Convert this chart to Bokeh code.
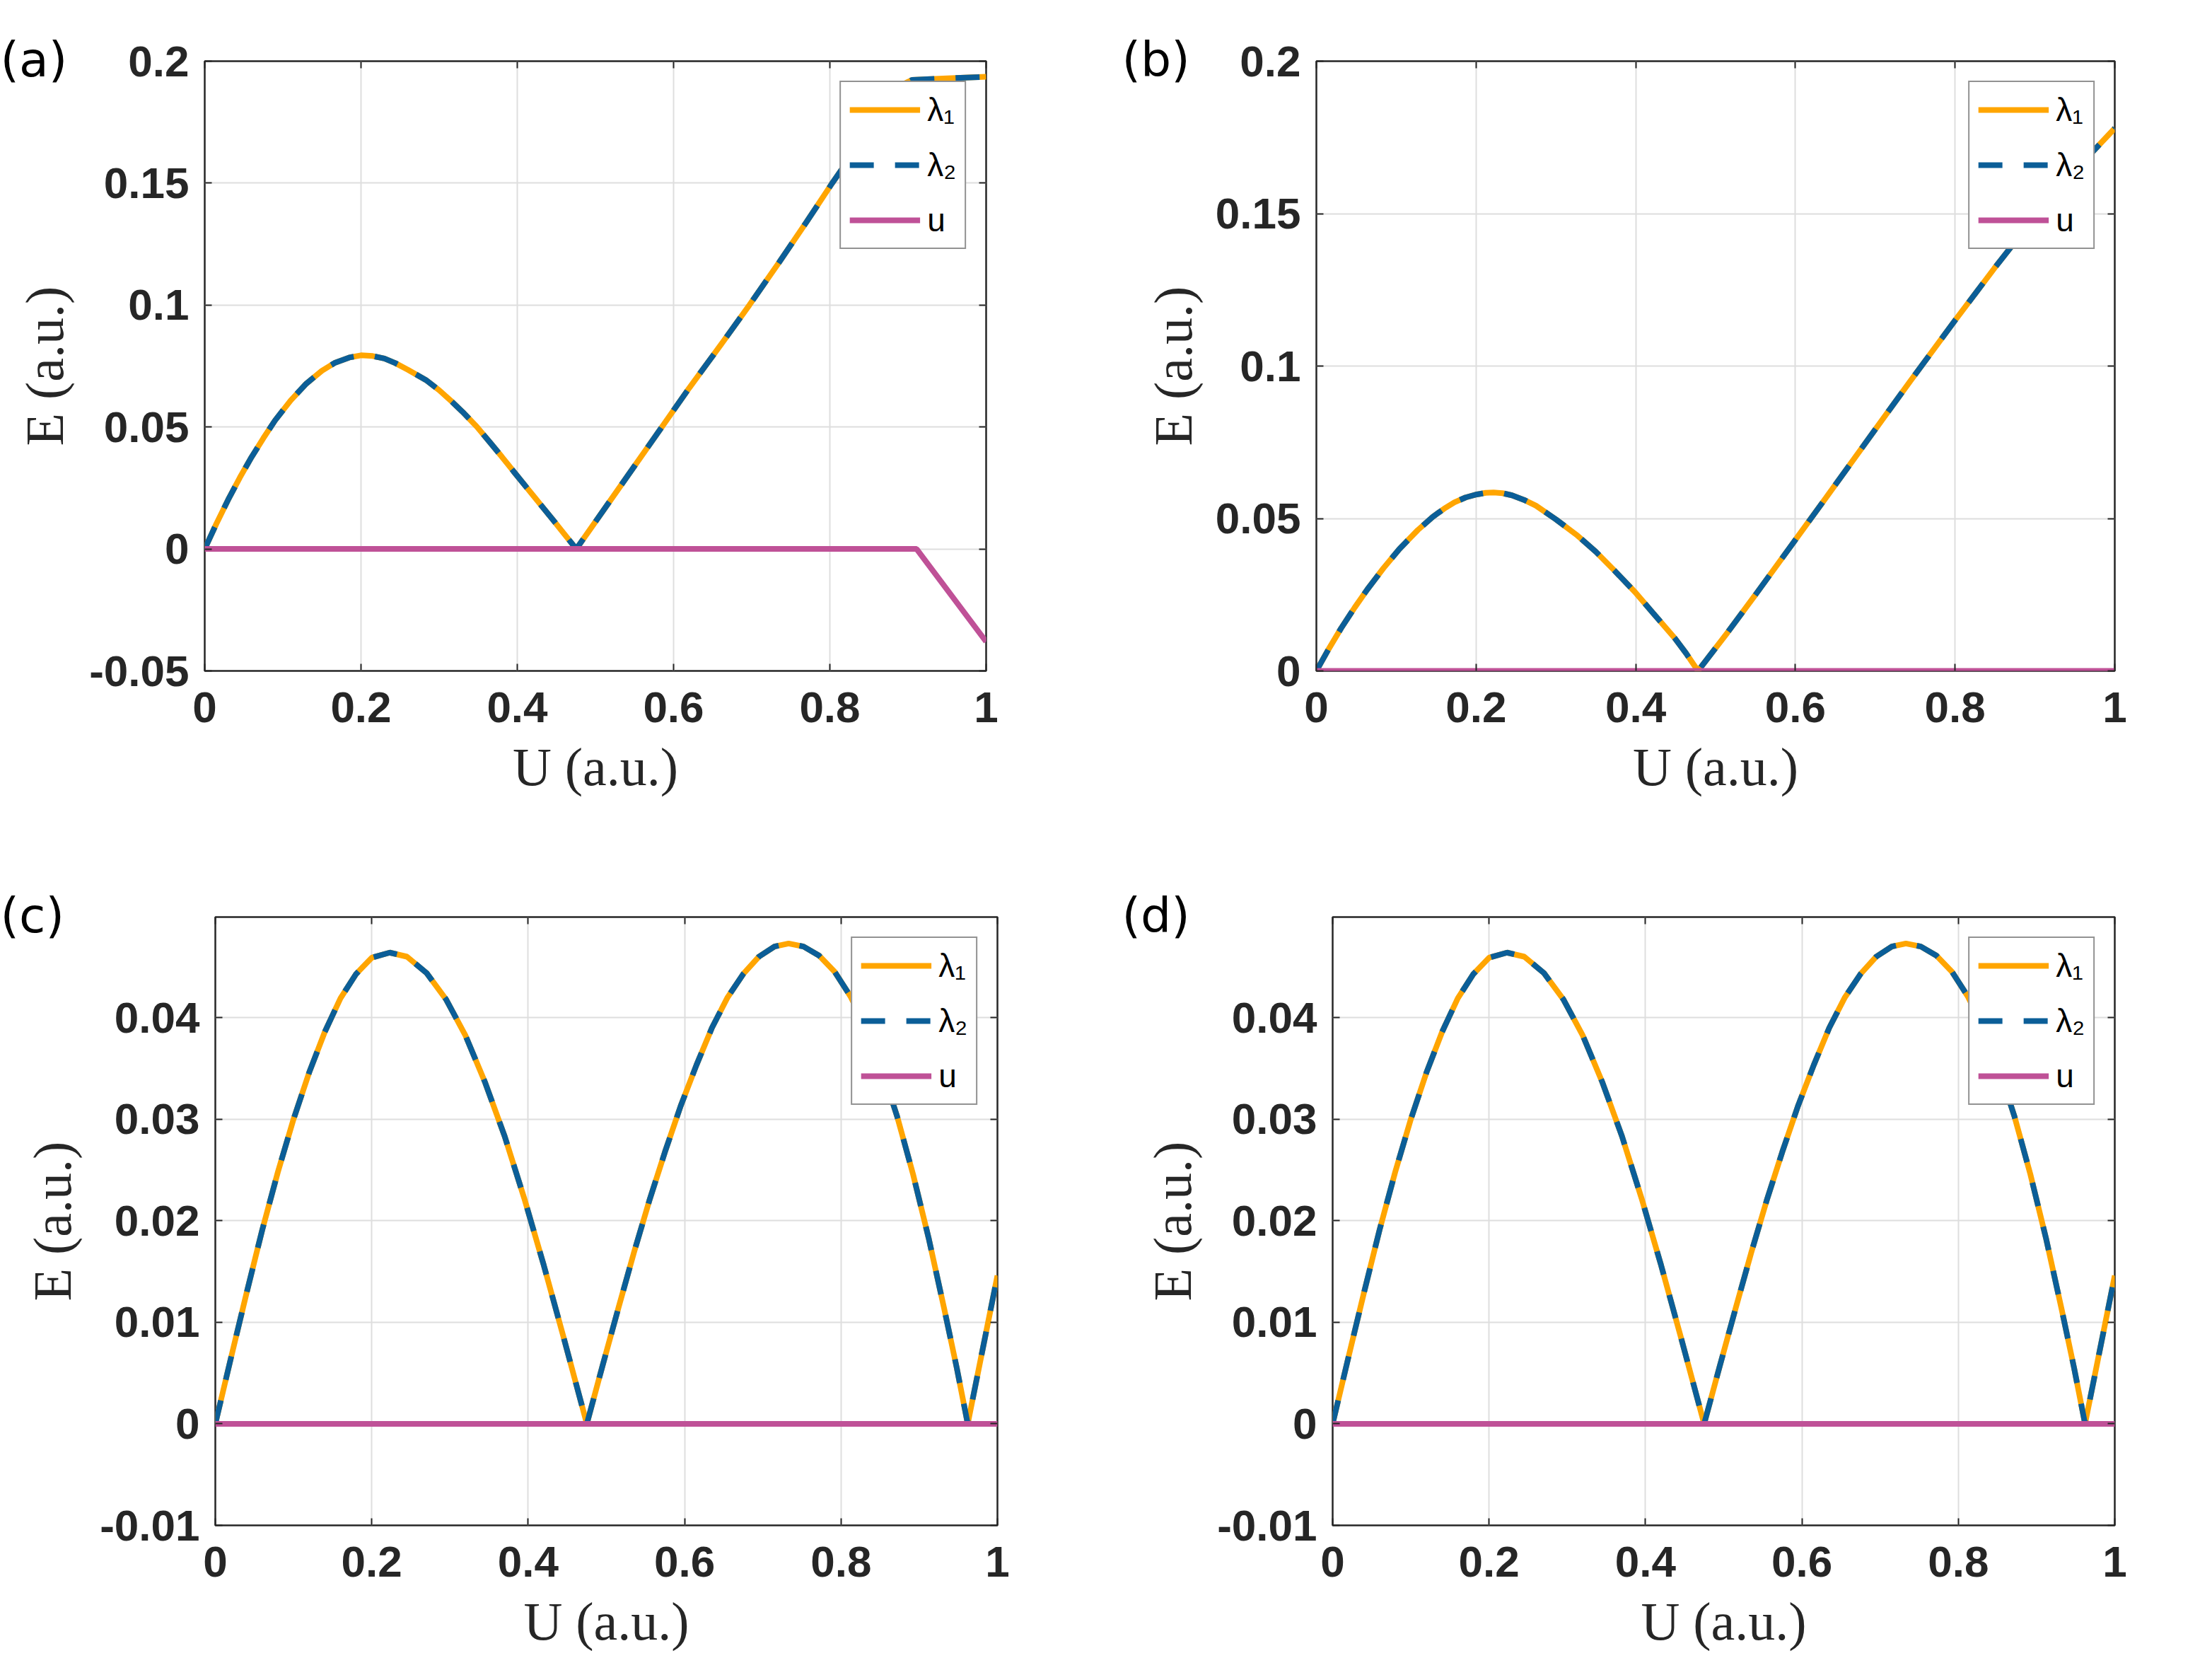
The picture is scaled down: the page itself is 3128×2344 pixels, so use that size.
from bokeh.plotting import figure
from bokeh.models import (Range1d, FixedTicker, LinearAxis, Legend, LegendItem,
                          CustomJSTickFormatter)
from bokeh.layouts import row, column
from bokeh.embed import file_html
from bokeh.resources import INLINE

# ---------------- data ----------------
x_ticks = [0, 0.2, 0.4, 0.6, 0.8, 1.0]
x_tick_labels = ["0", "0.2", "0.4", "0.6", "0.8", "1"]
x_label = "U (a.u.)"
y_label = "E (a.u.)"

# panel (a)
lam_a_U = [0.0, 0.015, 0.03, 0.045, 0.06, 0.075, 0.09, 0.11, 0.13, 0.15, 0.167, 0.185, 0.2,
           0.215, 0.23, 0.244, 0.26, 0.283, 0.3, 0.315, 0.33, 0.348, 0.365, 0.38, 0.395,
           0.412, 0.428, 0.445, 0.46, 0.4755,
           0.49, 0.52, 0.55, 0.585, 0.62, 0.66, 0.697, 0.735, 0.77, 0.803, 0.84, 0.87,
           0.883, 0.893, 0.905, 0.95, 1.0]
lam_a_E = [0.0, 0.0104, 0.0202, 0.0293, 0.0377, 0.0454, 0.0527, 0.0609, 0.0678, 0.0731,
           0.0764, 0.0785, 0.0794, 0.0791, 0.0781, 0.0762, 0.0735, 0.0693, 0.0651, 0.0608,
           0.0562, 0.0502, 0.0437, 0.0379, 0.0319, 0.0252, 0.0189, 0.0122, 0.0062, 0.0,
           0.0066, 0.0203, 0.0340, 0.0500, 0.0660, 0.0835, 0.1000, 0.1175, 0.1340, 0.1500,
           0.1670, 0.1805, 0.1866, 0.1905, 0.1923, 0.1930, 0.1936]
u_a_U = [0.0, 0.911, 1.0]
u_a_E = [0.0, 0.0, -0.038]
y_ticks_a = [-0.05, 0, 0.05, 0.1, 0.15, 0.2]
y_tick_labels_a = ["-0.05", "0", "0.05", "0.1", "0.15", "0.2"]

# panel (b)
lam_b_U = [0.0, 0.015, 0.031, 0.048, 0.064, 0.084, 0.104, 0.127, 0.146, 0.160, 0.173, 0.187,
           0.201, 0.212, 0.222, 0.233, 0.245, 0.260, 0.275, 0.300, 0.327, 0.350, 0.373,
           0.399, 0.422, 0.449, 0.463, 0.478,
           0.515, 0.55, 0.6, 0.638, 0.673, 0.708, 0.744, 0.8, 0.849, 0.885, 0.94, 1.0]
lam_b_E = [0.0, 0.0070, 0.0140, 0.0208, 0.0268, 0.0337, 0.0400, 0.0462, 0.0506, 0.0532,
           0.0553, 0.0569, 0.0579, 0.0584, 0.0585, 0.0583, 0.0576, 0.0561, 0.0542, 0.0497,
           0.0444, 0.0391, 0.0330, 0.0259, 0.0189, 0.0107, 0.0058, 0.0,
           0.0126, 0.0250, 0.0430, 0.0567, 0.0694, 0.0821, 0.0951, 0.1150, 0.1320, 0.1440,
           0.1613, 0.1780]
u_b_U = [0.0, 1.0]
u_b_E = [0.0, 0.0]
y_ticks_b = [0, 0.05, 0.1, 0.15, 0.2]
y_tick_labels_b = ["0", "0.05", "0.1", "0.15", "0.2"]

# panel (c)
lam_c_U = [0.0, 0.02, 0.04, 0.06, 0.08, 0.10, 0.12, 0.14, 0.16, 0.18, 0.20, 0.223,
           0.245, 0.27, 0.295, 0.32, 0.345, 0.37, 0.395, 0.42, 0.445, 0.475,
           0.495, 0.515, 0.535, 0.555, 0.575, 0.595, 0.615, 0.635, 0.655, 0.675, 0.695,
           0.715, 0.733, 0.752, 0.772, 0.792, 0.812, 0.832, 0.852, 0.872, 0.892, 0.912,
           0.932, 0.948, 0.962, 0.981, 1.0]
lam_c_E = [0.0, 0.0065, 0.0129, 0.0191, 0.0248, 0.0300, 0.0346, 0.0386, 0.0419, 0.0443,
           0.0459, 0.0464,
           0.0460, 0.0444, 0.0418, 0.0382, 0.0336, 0.0283, 0.0222, 0.0156, 0.0086, 0.0,
           0.0057, 0.0113, 0.0168, 0.0220, 0.0268, 0.0313, 0.0353, 0.0390, 0.0420, 0.0443,
           0.0460, 0.0470, 0.0473, 0.0470, 0.0461, 0.0445, 0.0421, 0.0390, 0.0350, 0.0302,
           0.0246, 0.0183, 0.0113, 0.0055, 0.0, 0.0073, 0.0146]
u_c_U = [0.0, 1.0]
u_c_E = [0.0, 0.0]

# panel (d)
lam_d_U = [0.0, 0.02, 0.04, 0.06, 0.08, 0.10, 0.12, 0.14, 0.16, 0.18, 0.20, 0.223,
           0.245, 0.27, 0.295, 0.32, 0.345, 0.37, 0.395, 0.42, 0.445, 0.475,
           0.495, 0.515, 0.535, 0.555, 0.575, 0.595, 0.615, 0.635, 0.655, 0.675, 0.695,
           0.715, 0.733, 0.752, 0.772, 0.792, 0.812, 0.832, 0.852, 0.872, 0.892, 0.912,
           0.932, 0.948, 0.962, 0.981, 1.0]
lam_d_E = [0.0, 0.0065, 0.0129, 0.0191, 0.0248, 0.0300, 0.0346, 0.0386, 0.0419, 0.0443,
           0.0459, 0.0464,
           0.0460, 0.0444, 0.0418, 0.0382, 0.0336, 0.0283, 0.0222, 0.0156, 0.0086, 0.0,
           0.0057, 0.0113, 0.0168, 0.0220, 0.0268, 0.0313, 0.0353, 0.0390, 0.0420, 0.0443,
           0.0460, 0.0470, 0.0473, 0.0470, 0.0461, 0.0445, 0.0421, 0.0390, 0.0350, 0.0302,
           0.0246, 0.0183, 0.0113, 0.0055, 0.0, 0.0073, 0.0146]
u_d_U = [0.0, 1.0]
u_d_E = [0.0, 0.0]
y_ticks_cd = [-0.01, 0, 0.01, 0.02, 0.03, 0.04]
y_tick_labels_cd = ["-0.01", "0", "0.01", "0.02", "0.03", "0.04"]

legend_labels = ["λ₁", "λ₂", "u"]

# ---------------- style ----------------
ORANGE = "#FFA500"
BLUE = "#0B5E98"
MAGENTA = "#BF5197"
AX = "#262626"
GRID = "#DEDEDE"
LW = 8
DASH = "34 30"
TICK_FONT = "Liberation Sans"
SERIF = "Liberation Serif"


def make_panel(tag, lamU, lamE, uU, uE, yr, yt, ytl, W, H, bl, br, bt, bb,
               ylab_standoff, tag_x):
    p = figure(width=W, height=H, x_range=Range1d(0, 1), y_range=Range1d(*yr),
               output_backend="svg", toolbar_location=None,
               min_border_left=bl, min_border_right=br, min_border_top=bt,
               min_border_bottom=bb, background_fill_color="white",
               border_fill_color="white")
    p.outline_line_color = AX
    p.outline_line_width = 2.5
    p.outline_line_alpha = 1.0

    # panel tag "(a)" etc. placed left of the frame, level with its top edge
    p.title.text = tag
    p.title.align = "left"
    p.title.offset = tag_x
    p.title.vertical_align = "bottom"
    p.title.standoff = -74
    p.title.text_font = "DejaVu Sans"
    p.title.text_font_size = "68px"
    p.title.text_font_style = "normal"
    p.title.text_color = "#000000"

    xtick = FixedTicker(ticks=x_ticks)
    ytick = FixedTicker(ticks=yt)

    for ax, tk, labs in ((p.xaxis[0], xtick, x_tick_labels), (p.yaxis[0], ytick, ytl)):
        ax.ticker = tk
        ax.major_label_overrides = dict(zip(tk.ticks, labs))
        ax.major_label_text_font = TICK_FONT
        ax.major_label_text_font_style = "bold"
        ax.major_label_text_font_size = "62px"
        ax.major_label_text_color = AX
        ax.major_tick_in = 10
        ax.major_tick_out = 0
        ax.major_tick_line_color = AX
        ax.major_tick_line_width = 2
        ax.minor_tick_line_color = None
        ax.axis_line_color = None
        ax.axis_label_text_font = SERIF
        ax.axis_label_text_font_size = "76px"
        ax.axis_label_text_font_style = "normal"
        ax.axis_label_text_color = AX
    p.xaxis[0].axis_label = x_label
    p.yaxis[0].axis_label = y_label
    p.xaxis[0].major_label_standoff = 30
    p.yaxis[0].major_label_standoff = 22
    p.xaxis[0].axis_label_standoff = 18
    p.yaxis[0].axis_label_standoff = ylab_standoff

    for loc, tk in (("above", xtick), ("right", ytick)):
        a = LinearAxis(ticker=tk, formatter=CustomJSTickFormatter(code="return ''"),
                       major_tick_in=10, major_tick_out=0, major_tick_line_color=AX,
                       major_tick_line_width=2, minor_tick_line_color=None,
                       axis_line_color=None, major_label_standoff=0)
        p.add_layout(a, loc)

    p.xgrid.ticker = xtick
    p.ygrid.ticker = ytick
    p.xgrid.grid_line_color = GRID
    p.ygrid.grid_line_color = GRID
    p.xgrid.grid_line_width = 2
    p.ygrid.grid_line_width = 2

    r1 = p.line(lamU, lamE, line_color=ORANGE, line_width=LW)
    r2 = p.line(lamU, lamE, line_color=BLUE, line_width=LW, line_dash=DASH)
    r3 = p.line(uU, uE, line_color=MAGENTA, line_width=LW)

    leg = Legend(items=[LegendItem(label=legend_labels[0], renderers=[r1]),
                        LegendItem(label=legend_labels[1], renderers=[r2]),
                        LegendItem(label=legend_labels[2], renderers=[r3])],
                 location="top_right", margin=28, padding=12, spacing=24,
                 glyph_width=100, glyph_height=48, label_height=48, label_standoff=10,
                 label_text_font=TICK_FONT, label_text_font_size="46px",
                 label_text_color="#000000", border_line_color=AX,
                 border_line_width=2.5, background_fill_color="white",
                 background_fill_alpha=1.0)
    p.add_layout(leg)
    return p


pa = make_panel("(a)", lam_a_U, lam_a_E, u_a_U, u_a_E, (-0.05, 0.2), y_ticks_a,
                y_tick_labels_a, 1560, 1168, 289, 166, 86, 220, 18, -289)
pb = make_panel("(b)", lam_b_U, lam_b_E, u_b_U, u_b_E, (0.0, 0.2), y_ticks_b,
                y_tick_labels_b, 1560, 1168, 301, 130, 86, 220, 15, -275)
pc = make_panel("(c)", lam_c_U, lam_c_E, u_c_U, u_c_E, (-0.01, 0.0499), y_ticks_cd,
                y_tick_labels_cd, 1560, 1168, 304, 150, 126, 180, 22, -304)
pd = make_panel("(d)", lam_d_U, lam_d_E, u_d_U, u_d_E, (-0.01, 0.0499), y_ticks_cd,
                y_tick_labels_cd, 1560, 1168, 324, 130, 128, 178, 18, -298)

layout = column(row(pa, pb), row(pc, pd))
open("out.html", "w").write(file_html(layout, INLINE))
